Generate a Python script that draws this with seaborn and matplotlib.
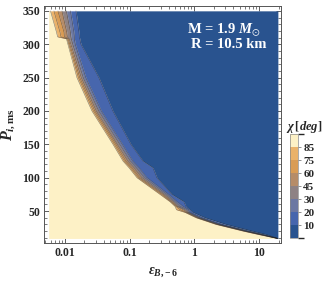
import numpy as np
import seaborn as sns
import matplotlib.pyplot as plt
from matplotlib.colors import ListedColormap, BoundaryNorm
from matplotlib.cm import ScalarMappable
from matplotlib.ticker import MultipleLocator

# contour edges: for each spin period row, the epsilon
# where chi crosses each level
P_rows = [350, 318, 311, 308, 300, 250, 200, 150, 125, 115, 100, 75, 64, 57, 52, 48, 40, 30, 20, 15, 9]
eps85 = [0.00597, 0.0074, 0.0077, 0.01055, 0.0111, 0.0153, 0.0261, 0.0552, 0.0788, 0.0975, 0.1296, 0.294, 0.420, 0.502, 0.529, 0.716, 1.06, 2.16, 5.64, 9.62, 18.9]
eps75 = [0.00676, 0.0084, 0.0087, 0.0109, 0.0115, 0.0162, 0.0276, 0.0582, 0.0831, 0.1029, 0.1367, 0.310, 0.435, 0.520, 0.599, 0.742, 1.10, 2.23, 5.85, 9.96, 19.1]
eps60 = [0.0078, 0.0097, 0.0098, 0.0113, 0.0119, 0.0170, 0.0291, 0.0614, 0.0877, 0.1085, 0.1442, 0.327, 0.451, 0.539, 0.667, 0.769, 1.14, 2.31, 6.06, 10.3, 19.3]
eps45 = [0.0090, 0.0107, 0.0109, 0.0117, 0.0124, 0.0180, 0.0307, 0.0648, 0.0942, 0.1165, 0.1549, 0.345, 0.476, 0.558, 0.716, 0.796, 1.18, 2.40, 6.28, 10.7, 19.4]
eps30 = [0.01055, 0.0122, 0.0124, 0.0126, 0.0133, 0.0193, 0.0335, 0.0708, 0.1029, 0.1273, 0.1693, 0.371, 0.502, 0.599, 0.769, 0.825, 1.22, 2.49, 6.50, 11.1, 19.5]
eps20 = [0.0122, 0.0138, 0.0140, 0.0140, 0.0145, 0.0211, 0.0366, 0.0774, 0.1120, 0.1393, 0.185, 0.398, 0.539, 0.667, 0.811, 0.855, 1.29, 2.62, 6.86, 11.5, 19.5]
eps10 = [0.0148, 0.0165, 0.0167, 0.0170, 0.0177, 0.0335, 0.0551, 0.1047, 0.1605, 0.229, 0.264, 0.451, 0.691, 0.742, 0.855, 0.951, 1.46, 3.08, 7.77, 12.8, 19.5]

eps_min, eps_max = 0.0056, 19.5
levels = [0, 10, 20, 30, 45, 60, 75, 85, 90]
level_colors = ['#29538f', '#4766ad', '#6c78a2', '#8e8284', '#b68c68', '#d99c55', '#eab26a', '#fdf1c6']
cbar_ticks = [10, 20, 30, 45, 60, 75, 85]

sns.set_theme(style='ticks')
plt.rcParams['font.family'] = ['Liberation Serif', 'DejaVu Serif']
plt.rcParams['mathtext.fontset'] = 'custom'
plt.rcParams['mathtext.rm'] = 'Liberation Serif:bold'
plt.rcParams['mathtext.bf'] = 'Liberation Serif:bold'
plt.rcParams['mathtext.it'] = 'Liberation Serif:italic:bold'
plt.rcParams['mathtext.fallback'] = 'stix'

fig = plt.figure(figsize=(3.23, 2.81), dpi=100)
ax = fig.add_axes([0.137, 0.136, 0.733, 0.843])

P = np.array(P_rows)
edges = [np.full(len(P), eps_min), eps85, eps75, eps60, eps45, eps30, eps20, eps10,
         np.full(len(P), eps_max)]
# left to right goes from high chi to low chi
band_colors = level_colors[::-1]
for i in range(len(band_colors)):
    ax.fill_betweenx(P, edges[i], edges[i + 1], color=band_colors[i], lw=0)
for e in edges[1:-1]:
    ax.plot(e, P, color='#222222', lw=0.4, alpha=0.55)

ax.set_xscale('log')
ax.set_xlim(0.00479, 21.8)
ax.set_ylim(2.5, 357.4)
ax.set_xticks([0.01, 0.1, 1, 10])
ax.set_xticklabels(['0.01', '0.1', '1', '10'])
ax.yaxis.set_major_locator(MultipleLocator(50))
ax.yaxis.set_minor_locator(MultipleLocator(10))
ax.set_yticks([50, 100, 150, 200, 250, 300, 350])
ax.tick_params(which='both', direction='in', top=True, right=True, color='#444444')
ax.tick_params(which='major', length=3.5, width=0.6, pad=3)
ax.tick_params(which='minor', length=2, width=0.5)
for lab in ax.get_xticklabels() + ax.get_yticklabels():
    lab.set_fontweight('bold')
    lab.set_fontsize(8.5)
for s in ax.spines.values():
    s.set_linewidth(0.7)
    s.set_color('#555555')

ax.set_xlabel(r'$\epsilon_{B,\!-6}$', fontsize=10, labelpad=5)
ax.set_ylabel(r'$P_{i,\mathrm{ms}}$', fontsize=11.5, labelpad=4)

ax.text(0.757, 0.897, r'M = $1.9\ M_{\odot}$', transform=ax.transAxes,
        color='white', fontsize=10.5, fontweight='bold', ha='center', va='center')
ax.text(0.78, 0.835, 'R = 10.5 km', transform=ax.transAxes,
        color='white', fontsize=10.5, fontweight='bold', ha='center', va='center')

cax = fig.add_axes([0.898, 0.153, 0.024, 0.370])
sm = ScalarMappable(norm=BoundaryNorm(levels, len(level_colors)), cmap=ListedColormap(level_colors))
cb = fig.colorbar(sm, cax=cax, ticks=cbar_ticks)
cb.outline.set_linewidth(0.5)
cb.outline.set_edgecolor('#888888')
cax.tick_params(length=2, width=0.5, pad=2, color='#666666')
for lab in cax.get_yticklabels():
    lab.set_fontweight('bold')
    lab.set_fontsize(8)
fig.text(0.943, 0.548, r'$\chi\,[deg]$', fontsize=9, ha='center', va='center')

fig.savefig('out.png', dpi=100)
